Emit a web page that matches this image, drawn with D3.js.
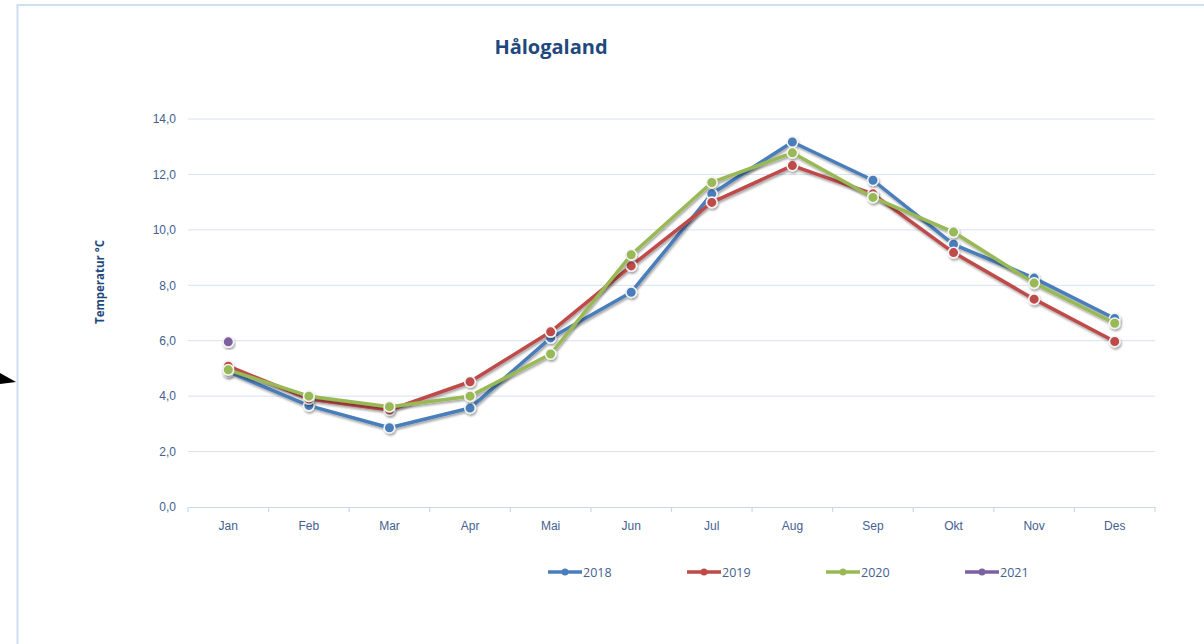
<!DOCTYPE html>
<html>
<head>
<meta charset="utf-8">
<script src="https://cdn.jsdelivr.net/npm/d3@7"></script>
<style>
  body { margin: 0; background: #fff; }
  svg { display: block; font-family: "Open Sans", "Noto Sans", sans-serif; }
  .tick text { fill: #44618f; font-size: 12px; }
</style>
</head>
<body>
<svg id="chart" width="1204" height="644"></svg>
<script>
const months = ["Jan", "Feb", "Mar", "Apr", "Mai", "Jun", "Jul", "Aug", "Sep", "Okt", "Nov", "Des"];
const years = ["2018", "2019", "2020", "2021"];
const colors = ["#4a7ebb", "#be4b48", "#98b954", "#7d60a0"];

const t2018 = [4.88, 3.66, 2.86, 3.57, 6.1, 7.75, 11.3, 13.17, 11.79, 9.48, 8.26, 6.8];
const t2019 = [5.08, 3.9, 3.5, 4.52, 6.32, 8.7, 10.99, 12.32, 11.3, 9.18, 7.5, 5.97];
const t2020 = [4.95, 4.0, 3.62, 4.0, 5.52, 9.1, 11.71, 12.78, 11.17, 9.92, 8.08, 6.63];
const t2021 = [5.96];
const series = [t2018, t2019, t2020, t2021];

const yTicks = [0, 2, 4, 6, 8, 10, 12, 14];

const svg = d3.select("#chart");
const margin = {top: 119, left: 188, right: 49, bottom: 137};
const width = 1204 - margin.left - margin.right;
const height = 644 - margin.top - margin.bottom;

// outer frame
svg.append("rect")
   .attr("x", 17.5).attr("y", 5)
   .attr("width", 1300).attr("height", 800)
   .attr("fill", "none")
   .attr("stroke", "#cfdef1")
   .attr("stroke-width", 2);

// small black arrow on the left edge
svg.append("path")
   .attr("d", "M0,373 L16,382 L0,384 Z")
   .attr("fill", "#000");

const defs = svg.append("defs");
const f = defs.append("filter").attr("id", "shadow")
              .attr("x", "-20%").attr("y", "-20%").attr("width", "140%").attr("height", "140%");
f.append("feDropShadow").attr("dx", 1).attr("dy", 2).attr("stdDeviation", 1.2)
 .attr("flood-color", "#000").attr("flood-opacity", 0.35);

const g = svg.append("g").attr("transform", "translate(" + margin.left + "," + margin.top + ")");

const x = d3.scaleBand().domain(months).range([0, width]);
const y = d3.scaleLinear().domain([0, 14]).range([height, 0]);

// gridlines
g.append("g")
 .selectAll("line")
 .data(yTicks.filter(d => d > 0))
 .enter().append("line")
   .attr("x1", 0).attr("x2", width)
   .attr("y1", d => y(d)).attr("y2", d => y(d))
   .attr("stroke", "#d6e3f3").attr("stroke-width", 1);

// y axis labels
const yAxis = g.append("g")
               .call(d3.axisLeft(y).tickValues(yTicks).tickSize(0).tickPadding(12)
                       .tickFormat(d => d3.format(".1f")(d).replace(".", ",")));
yAxis.select(".domain").remove();

// x axis
const xAxis = g.append("g")
               .attr("transform", "translate(0," + height + ")")
               .call(d3.axisBottom(x).tickSize(0).tickPadding(14));
xAxis.select(".domain").attr("stroke", "#c9d8ec").attr("stroke-width", 1.2);

// band boundary ticks
g.append("g")
 .selectAll("line")
 .data(months.concat(["end"]))
 .enter().append("line")
   .attr("x1", (d, i) => i * x.bandwidth()).attr("x2", (d, i) => i * x.bandwidth())
   .attr("y1", height).attr("y2", height + 5)
   .attr("stroke", "#c9d8ec").attr("stroke-width", 1.2);

// lines + markers
const line = d3.line()
               .x((d, i) => x(months[i]) + x.bandwidth() / 2)
               .y(d => y(d));

series.forEach((s, k) => {
  const sg = g.append("g").attr("filter", "url(#shadow)");
  sg.append("path")
    .datum(s)
    .attr("d", line)
    .attr("fill", "none")
    .attr("stroke", colors[k])
    .attr("stroke-width", 3.5)
    .attr("stroke-linejoin", "round");
  sg.selectAll("circle")
    .data(s)
    .enter().append("circle")
      .attr("cx", (d, i) => x(months[i]) + x.bandwidth() / 2)
      .attr("cy", d => y(d))
      .attr("r", 5.3)
      .attr("fill", colors[k])
      .attr("stroke", "#f4f4f4")
      .attr("stroke-width", 1.6);
});

// title
svg.append("text")
   .attr("x", 551).attr("y", 54)
   .attr("text-anchor", "middle")
   .attr("font-size", "20px")
   .attr("font-weight", "bold")
   .attr("fill", "#1f497d")
   .text("Hålogaland");

// y axis title
svg.append("text")
   .attr("transform", "translate(104,282) rotate(-90)")
   .attr("text-anchor", "middle")
   .attr("font-size", "11.5px")
   .attr("font-weight", "bold")
   .attr("fill", "#1f497d")
   .text("Temperatur °C");

// legend
const legend = svg.append("g").attr("transform", "translate(548,572)");
const item = legend.selectAll("g")
                   .data(years)
                   .enter().append("g")
                   .attr("transform", (d, i) => "translate(" + i * 139 + ",0)");
item.append("line")
    .attr("x1", 0).attr("x2", 34).attr("y1", 0).attr("y2", 0)
    .attr("stroke", (d, i) => colors[i]).attr("stroke-width", 3.5);
item.append("circle")
    .attr("cx", 17).attr("cy", 0).attr("r", 3.5)
    .attr("fill", (d, i) => colors[i]);
item.append("text")
    .attr("x", 35).attr("y", 4.5)
    .attr("font-size", "12.5px")
    .attr("fill", "#44618f")
    .text(d => d);
</script>
</body>
</html>
